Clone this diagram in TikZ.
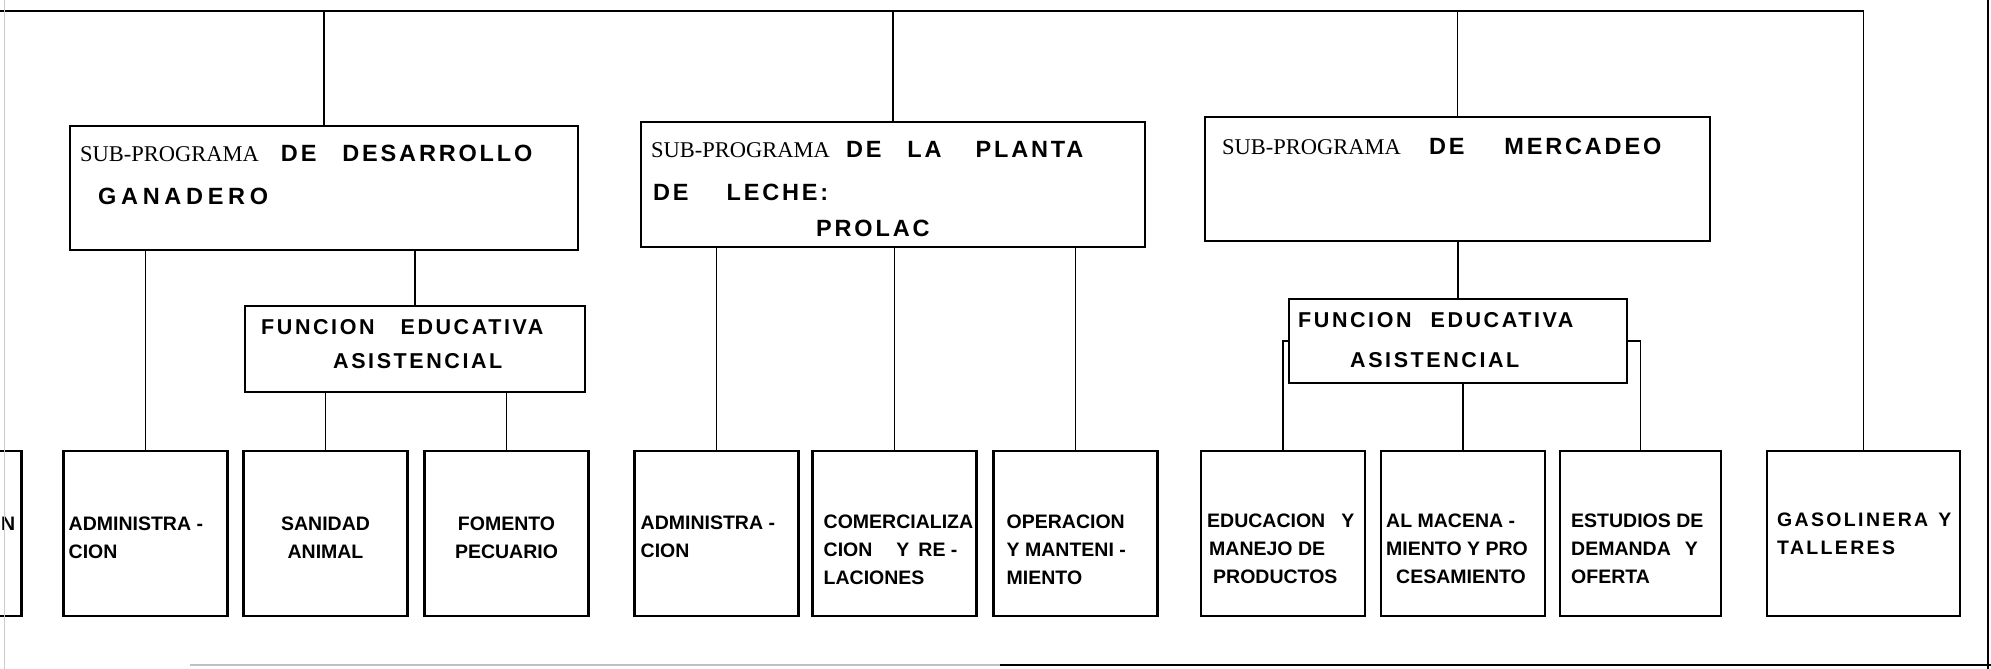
\documentclass[tikz,border=0pt]{standalone}
\usepackage{fontspec}
\setmainfont{Liberation Sans}
\newfontfamily\rotulo[LetterSpace=12]{Liberation Sans}
\newfontfamily\serifa{Liberation Serif}
\usetikzlibrary{positioning}

\begin{document}
\begin{tikzpicture}[x=1pt, y=-1pt]
    \tikzset{
        caja/.style = {rectangle, draw, line width=2.4pt, inner sep=0pt, outer sep=0pt},
        fila/.style = {caja, minimum width=164pt, minimum height=165pt},
        linea/.style = {draw, line width=1.2pt},
        borde/.style = {draw, line width=2pt},
        titulo/.style = {anchor=base west, inner sep=0pt, font=\rotulo\bfseries\fontsize{23.5}{28}\selectfont},
        funcion/.style = {anchor=base west, inner sep=0pt, font=\rotulo\bfseries\fontsize{21.5}{26}\selectfont},
        texto/.style = {anchor=north west, align=left, inner sep=0pt, font=\bfseries\fontsize{19.5}{28}\selectfont}
    }
    \useasboundingbox (0,0) rectangle (1991,669);
    \clip (0,0) rectangle (1991,669);

    % sub-programas
    \node[caja, minimum width=508pt, minimum height=124pt](des) at (324,188){};
    \node[caja, minimum width=504pt, minimum height=125pt](pro) at (893,184.5){};
    \node[caja, minimum width=505pt, minimum height=124pt](mer) at (1457.5,179){};

    \node[titulo](des_a) at ([shift={(10,35)}]des.north west){{\serifa\mdseries\fontsize{22.5}{26}\selectfont SUB-PROGRAMA}\hspace{22pt}DE\hspace{26pt}DESARROLLO};
    \node[titulo](des_b) at ([shift={(28,78)}]des.north west){\addfontfeature{LetterSpace=20}GANADERO};

    \node[titulo](pro_a) at ([shift={(10,35)}]pro.north west){{\serifa\mdseries\fontsize{22.5}{26}\selectfont SUB-PROGRAMA}\hspace{16pt}DE\hspace{26pt}LA\hspace{34pt}PLANTA};
    \node[titulo](pro_b) at ([shift={(12,78)}]pro.north west){DE\hspace{38pt}LECHE:};
    \node[titulo](pro_c) at ([shift={(175,114)}]pro.north west){PROLAC};

    \node[titulo](mer_a) at ([shift={(17,37)}]mer.north west){{\serifa\mdseries\fontsize{22.5}{26}\selectfont SUB-PROGRAMA}\hspace{28pt}DE\hspace{40pt}MERCADEO};

    % funcion educativa asistencial
    \node[caja, minimum width=340pt, minimum height=86pt](fun_1) at (415,349){};
    \node[caja, minimum width=338pt, minimum height=84pt](fun_2) at (1458,341){};

    \node[funcion](fun_1a) at ([shift={(16,28)}]fun_1.north west){FUNCION\hspace{26pt}EDUCATIVA};
    \node[funcion](fun_1b) at ([shift={(88,62)}]fun_1.north west){ASISTENCIAL};
    \node[funcion](fun_2a) at ([shift={(9,28)}]fun_2.north west){FUNCION\hspace{19pt}EDUCATIVA};
    \node[funcion](fun_2b) at ([shift={(61,68)}]fun_2.north west){ASISTENCIAL};

    % fila de abajo
    \node[fila](adm_1) at (145.5,533.5){};
    \node[fila](previo)[left = 42pt of adm_1]{};
    \node[fila](san)[right = 16pt of adm_1]{};
    \node[fila](fom)[right = 17pt of san]{};
    \node[fila](adm_2)[right = 46pt of fom]{};
    \node[fila](com)[right = 14pt of adm_2]{};
    \node[fila](ope)[right = 17pt of com]{};
    \node[fila](edu)[right = 43.5pt of ope]{};
    \node[fila](alm)[right = 16pt of edu]{};
    \node[fila, minimum width=161pt](est)[right = 15pt of alm]{};
    \node[fila, minimum width=193pt](gas)[right = 46pt of est]{};

    \node[texto, anchor=north east](previo_t) at ([shift={(-6,66)}]previo.north east){N};
    \node[texto](adm_1t) at ([shift={(5,66)}]adm_1.north west){ADMINISTRA -\\CION};
    \node[texto, anchor=north, align=center](san_t) at ([shift={(0,66)}]san.north){SANIDAD\\ANIMAL};
    \node[texto, anchor=north, align=center](fom_t) at ([shift={(0,66)}]fom.north){FOMENTO\\PECUARIO};
    \node[texto](adm_2t) at ([shift={(6,65)}]adm_2.north west){ADMINISTRA -\\CION};
    \node[texto](com_t) at ([shift={(11,64)}]com.north west){COMERCIALIZA\\CION\hspace{24pt}Y\hspace{9pt}RE -\\LACIONES};
    \node[texto](ope_t) at ([shift={(13,64)}]ope.north west){OPERACION\\Y MANTENI -\\MIENTO};
    \node[texto](edu_t) at ([shift={(6,63)}]edu.north west){EDUCACION\hspace{16pt}Y\\\hspace*{2pt}MANEJO DE\\\hspace*{6pt}PRODUCTOS};
    \node[texto](alm_t) at ([shift={(5,63)}]alm.north west){AL MACENA -\\MIENTO Y PRO\\\hspace*{10pt}CESAMIENTO};
    \node[texto](est_t) at ([shift={(11,63)}]est.north west){ESTUDIOS DE\\DEMANDA\hspace{14pt}Y\\OFERTA};
    \node[texto, font=\rotulo\bfseries\fontsize{19.5}{28}\selectfont](gas_t) at ([shift={(10,62)}]gas.north west){GASOLINERA\hspace{10pt}Y\\TALLERES};

    % conexiones
    \coordinate (arriba) at (0,11);
    \path [linea, line width=1.8pt] (arriba) -| (gas.north);
    \path [linea] (des.north |- arriba) -- (des.north);
    \path [linea] (pro.north |- arriba) -- (pro.north);
    \path [linea] (mer.north |- arriba) -- (mer.north);

    \path [linea] (adm_1.north |- des.south) -- (adm_1.north);
    \path [linea] (fun_1.north |- des.south) -- (fun_1.north);
    \path [linea] (san.north |- fun_1.south) -- (san.north);
    \path [linea] (fom.north |- fun_1.south) -- (fom.north);

    \path [linea] (adm_2.north |- pro.south) -- (adm_2.north);
    \path [linea] (com.north |- pro.south) -- (com.north);
    \path [linea] (ope.north |- pro.south) -- (ope.north);

    \path [linea] (fun_2.north |- mer.south) -- (fun_2.north);
    \path [linea] (fun_2.west) -| (edu.north);
    \path [linea] (alm.north |- fun_2.south) -- (alm.north);
    \path [linea] (fun_2.east) -| (est.north);

    % bordes de la hoja
    \draw[borde] (1988,0) -- (1988,669);
    \draw[borde, gray!50] (190,665) -- (1000,665);
    \draw[borde] (1000,665) -- (1991,665);
    \draw[gray!40, line width=1pt] (4,0) -- (4,669);

\end{tikzpicture}
\end{document}
